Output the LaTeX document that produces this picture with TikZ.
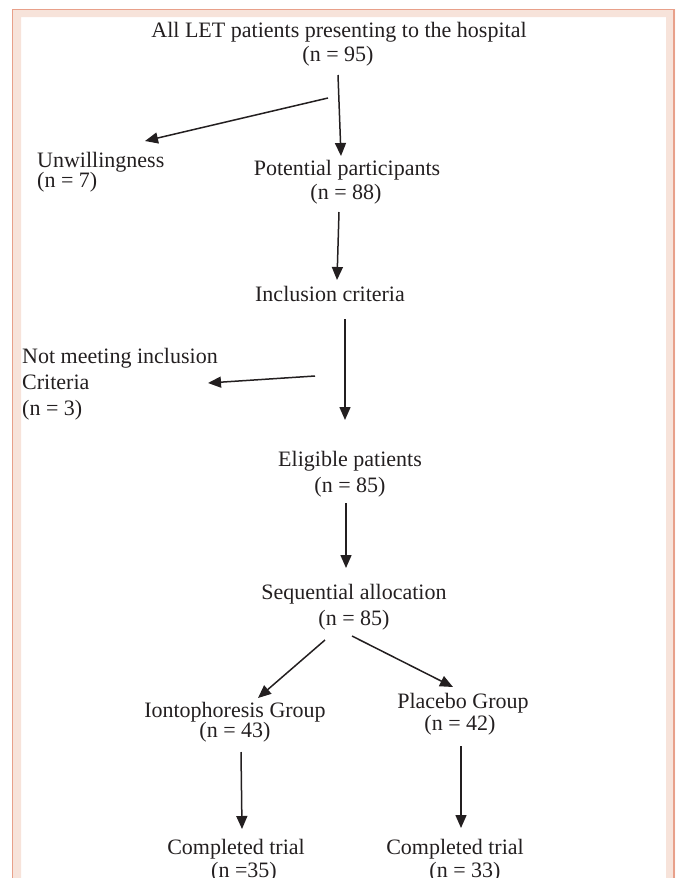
\documentclass[tikz,border=0pt]{standalone}
\usepackage{fontspec}
\setmainfont{Liberation Serif}
\usetikzlibrary{arrows.meta}
\definecolor{bandpink}{HTML}{F7E3DA}
\definecolor{bandline}{HTML}{E8A08A}
\definecolor{inkgray}{HTML}{231F20}
\begin{document}
\begin{tikzpicture}[x=1pt,y=-1pt,
  lbl/.style={inner sep=0pt,anchor=base,font=\fontsize{22}{26}\selectfont,text=inkgray},
  lblw/.style={lbl,anchor=base west},
  arr/.style={draw=inkgray,line width=1.5pt,-{Triangle[length=13pt,width=11pt]}}]
\useasboundingbox (0,0) rectangle (675,878);
% frame
\fill[bandpink,even odd rule] (12,9) rectangle (675,900) (21,17) rectangle (666,900);
\draw[bandline,line width=1.6pt] (12.5,900) -- (12.5,9.5) -- (674,9.5) -- (674,900);
% texts
\node[lbl] (t1) at (339,37) {All LET patients presenting to the hospital};
\node[lbl] (t2) at (338,61) {(n = 95)};
\node[lblw] (u1) at (37,167) {Unwillingness};
\node[lblw] (u2) at (37,187) {(n = 7)};
\node[lbl] (p1) at (347,175) {Potential participants};
\node[lbl] (p2) at (346,199) {(n = 88)};
\node[lbl] (ic) at (330,301) {Inclusion criteria};
\node[lblw] (nm1) at (22,363) {Not meeting inclusion};
\node[lblw] (nm2) at (22,389) {Criteria};
\node[lblw] (nm3) at (22,415) {(n = 3)};
\node[lbl] (e1) at (350,466) {Eligible patients};
\node[lbl] (e2) at (350,492) {(n = 85)};
\node[lbl] (s1) at (354,599) {Sequential allocation};
\node[lbl] (s2) at (354,625) {(n = 85)};
\node[lbl] (i1) at (235,717) {Iontophoresis Group};
\node[lbl] (i2) at (235,737) {(n = 43)};
\node[lbl] (g1) at (463,708) {Placebo Group};
\node[lbl] (g2) at (460,730) {(n = 42)};
\node[lbl] (c1) at (236,854) {Completed trial};
\node[lbl] (c2) at (244,877) {(n =35)};
\node[lbl] (d1) at (455,854) {Completed trial};
\node[lbl] (d2) at (465,877) {(n = 33)};
% arrow ends
\coordinate (a1s) at (338,75);   \coordinate (a1e) at (341,156);
\coordinate (a2s) at (328,98);   \coordinate (a2e) at (145,141);
\coordinate (a3s) at (339,212);  \coordinate (a3e) at (337,280);
\coordinate (a4s) at (345,319);  \coordinate (a4e) at (345,420);
\coordinate (a5s) at (315,376);  \coordinate (a5e) at (208,383);
\coordinate (a6s) at (346,503);  \coordinate (a6e) at (346,568);
\coordinate (a7s) at (325,640);  \coordinate (a7e) at (258,698);
\coordinate (a8s) at (352,636);  \coordinate (a8e) at (453,687);
\coordinate (a9s) at (241,752);  \coordinate (a9e) at (242,829);
\coordinate (a10s) at (461,746); \coordinate (a10e) at (461,828);
\draw[arr] (a1s) -- (a1e);
\draw[arr] (a2s) -- (a2e);
\draw[arr] (a3s) -- (a3e);
\draw[arr] (a4s) -- (a4e);
\draw[arr] (a5s) -- (a5e);
\draw[arr] (a6s) -- (a6e);
\draw[arr] (a7s) -- (a7e);
\draw[arr] (a8s) -- (a8e);
\draw[arr] (a9s) -- (a9e);
\draw[arr] (a10s) -- (a10e);
\end{tikzpicture}
\end{document}
